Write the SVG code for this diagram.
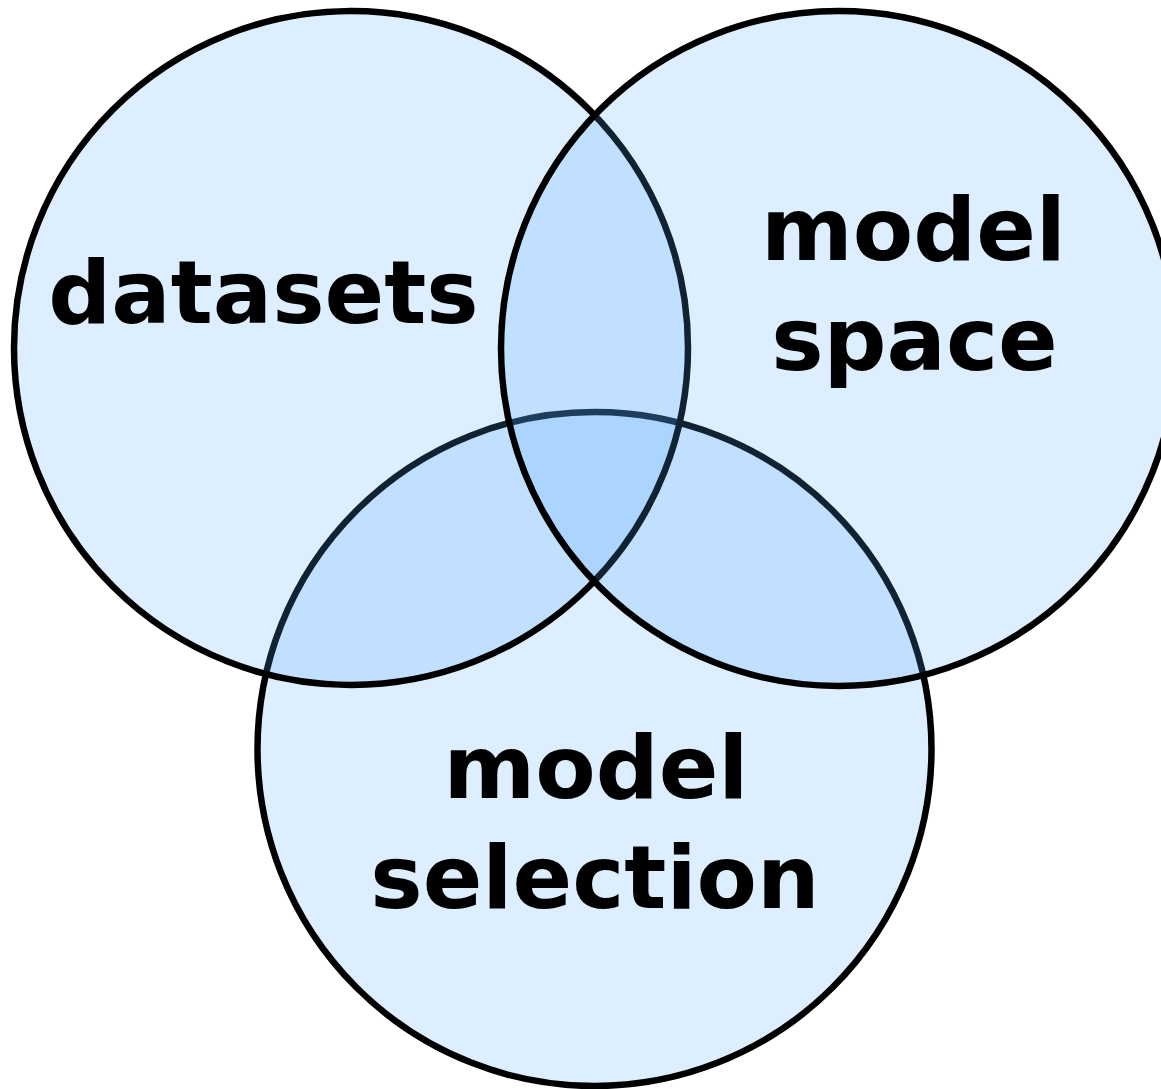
<svg xmlns="http://www.w3.org/2000/svg" width="1161" height="1089" viewBox="0 0 1161 1089">
<style>
.set{fill:rgb(85,170,255);fill-opacity:0.2;stroke:#000;stroke-width:6.5}
.lbl{font-family:"DejaVu Sans","Verdana",sans-serif;font-weight:bold;font-size:88px;fill:#000;text-anchor:middle}
</style>
<rect width="1161" height="1089" fill="#fff"/>
<g id="connectors"></g>
<g id="model-selection">
<circle class="set" cx="594.5" cy="749" r="337"/>
</g>
<g id="datasets">
<circle class="set" cx="351" cy="348" r="337"/>
</g>
<g id="model-space">
<circle class="set" cx="838.5" cy="348.5" r="337.5"/>
</g>
<g id="labels">
<text class="lbl" x="263.5" y="322.5">datasets</text>
<text class="lbl" x="913.5" y="259.5">model</text>
<text class="lbl" x="914.5" y="370">space</text>
<text class="lbl" x="596" y="797.5">model</text>
<text class="lbl" x="595" y="907.5">selection</text>
</g>
</svg>
